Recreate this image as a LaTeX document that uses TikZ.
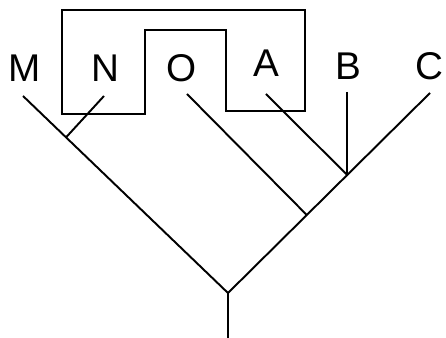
\documentclass[tikz,border=0pt]{standalone}
\usepackage{fontspec}
\setmainfont{Liberation Sans}
\usetikzlibrary{positioning,calc}

\begin{document}
\begin{tikzpicture}[
  taxon/.style={anchor=base, inner sep=0pt, font=\fontsize{22}{24}\selectfont},
  branch/.style={line width=1.1pt},
  frame/.style={line width=0.7pt, line join=miter}
]
\useasboundingbox (0,0) rectangle (8.92,6.76);

% labels of the tips
\node[taxon] (lblM) at (0.50,5.12) {M};
\node[taxon] (lblN) at (2.10,5.12) {N};
\node[taxon] (lblO) at (3.64,5.12) {O};
\node[taxon] (lblA) at (5.32,5.22) {A};
\node[taxon] (lblB) at (6.96,5.16) {B};
\node[taxon] (lblC) at (8.58,5.16) {C};

% ends of the branches
\coordinate (mtop) at (0.46,4.84);
\coordinate (ntop) at (2.08,4.84);
\coordinate (otop) at (3.74,4.88);
\coordinate (atop) at (5.32,4.88);
\coordinate (btop) at (6.94,4.92);
\coordinate (ctop) at (8.60,4.90);
\coordinate (root) at (4.56,0.90);
\coordinate (stem) at (4.56,0);

\coordinate (njoin)  at ($(mtop)!0.21!(root)$);
\coordinate (ojoin)  at ($(ctop)!0.61!(root)$);
\coordinate (abjoin) at ($(ctop)!0.41!(root)$);

\draw[branch] (mtop) -- (root) -- (ctop);
\draw[branch] (root) -- (stem);
\draw[branch] (ntop) -- (njoin);
\draw[branch] (otop) -- (ojoin);
\draw[branch] (atop) -- (abjoin);
\draw[branch] (abjoin |- btop) -- (abjoin);

% outline round N and A
\draw[frame] (1.24,6.56) -- (6.10,6.56) -- (6.10,4.54) -- (4.52,4.54)
  -- (4.52,6.16) -- (2.90,6.16) -- (2.90,4.48) -- (1.24,4.48) -- cycle;

\end{tikzpicture}
\end{document}
